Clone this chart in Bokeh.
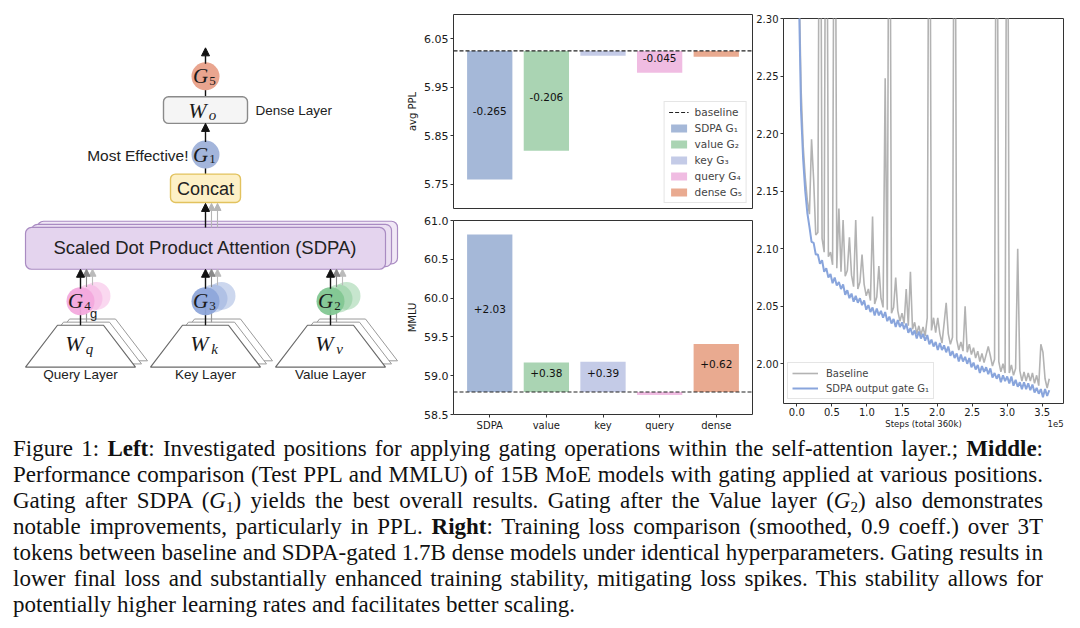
import numpy as np
from bokeh.plotting import figure
from bokeh.models import (Range1d, FixedTicker, ColumnDataSource, Arrow, LinearAxis,
                          NormalHead, Div, NumeralTickFormatter, Legend, LegendItem)
from bokeh.layouts import row, column
from bokeh.embed import file_html
from bokeh.resources import INLINE
from bokeh.core.properties import value

SANS = "DejaVu Sans"
DSANS = "Liberation Sans"
MATH = "Liberation Serif"

# ---------------- middle panels: data ----------------
categories = ["SDPA", "value", "key", "query", "dense"]
gate_names = ["SDPA G\u2081", "value G\u2082", "key G\u2083", "query G\u2084", "dense G\u2085"]
bar_colors = ["#a5b8d8", "#aad4b3", "#c4cbe7", "#f0bce2", "#e9aa90"]
ppl_baseline = 6.025
ppl_delta = [-0.265, -0.206, -0.010, -0.045, -0.012]
ppl_labels = ["-0.265", "-0.206", "", "-0.045", ""]
ppl_ticks = [5.75, 5.85, 5.95, 6.05]
mmlu_baseline = 58.79
mmlu_delta = [2.03, 0.38, 0.39, -0.04, 0.62]
mmlu_labels = ["+2.03", "+0.38", "+0.39", "", "+0.62"]
mmlu_ticks = [58.5, 59.0, 59.5, 60.0, 60.5, 61.0]

# ---------------- right panel: data ----------------
loss_step = 3000
baseline_loss = [
    2.340, 2.240, 2.190, 2.162, 2.142, 2.130, 2.195, 2.160, 2.112, 2.114,
    2.600, 2.109, 2.097, 2.600, 2.093, 2.097, 2.086, 2.600, 2.083, 2.135,
    2.080, 2.125, 2.076, 2.081, 2.110, 2.077, 2.067, 2.125, 2.065, 2.071,
    2.095, 2.069, 2.059, 2.065, 2.055, 2.128, 2.052, 2.058, 2.085, 2.057,
    2.049, 2.248, 2.047, 2.600, 2.044, 2.049, 2.075, 2.046, 2.037, 2.044,
    2.035, 2.065, 2.033, 2.080, 2.030, 2.036, 2.026, 2.033, 2.025, 2.032,
    2.024, 2.040, 2.600, 2.029, 2.040, 2.027, 2.040, 2.026, 2.018, 2.035,
    2.053, 2.026, 2.017, 2.023, 2.600, 2.021, 2.012, 2.019, 2.011, 2.050,
    2.010, 2.017, 2.008, 2.014, 2.005, 2.011, 2.002, 2.009, 2.001, 2.008,
    2.015, 2.007, 1.998, 2.004, 2.600, 2.002, 1.993, 2.000, 1.992, 2.600,
    1.992, 1.999, 1.990, 1.996, 2.100, 1.994, 1.985, 1.993, 1.985, 1.992,
    1.985, 1.992, 1.983, 1.990, 1.981, 2.017, 2.010, 1.987, 1.979, 1.987]
gated_loss = [
    2.320, 2.220, 2.178, 2.150, 2.131, 2.119, 2.106, 2.105, 2.095, 2.095,
    2.087, 2.090, 2.080, 2.083, 2.075, 2.078, 2.070, 2.075, 2.068, 2.071,
    2.065, 2.069, 2.060, 2.064, 2.057, 2.061, 2.054, 2.059, 2.053, 2.057,
    2.051, 2.055, 2.047, 2.051, 2.045, 2.049, 2.042, 2.048, 2.042, 2.046,
    2.040, 2.045, 2.037, 2.041, 2.035, 2.039, 2.032, 2.038, 2.032, 2.036,
    2.030, 2.035, 2.027, 2.031, 2.025, 2.029, 2.022, 2.028, 2.022, 2.026,
    2.020, 2.025, 2.017, 2.021, 2.015, 2.019, 2.012, 2.018, 2.012, 2.016,
    2.010, 2.015, 2.007, 2.011, 2.005, 2.009, 2.002, 2.008, 2.002, 2.006,
    2.000, 2.005, 1.997, 2.001, 1.995, 1.999, 1.992, 1.998, 1.993, 1.997,
    1.991, 1.996, 1.988, 1.992, 1.987, 1.991, 1.984, 1.990, 1.985, 1.989,
    1.983, 1.989, 1.981, 1.986, 1.980, 1.984, 1.978, 1.984, 1.978, 1.983,
    1.977, 1.982, 1.975, 1.979, 1.974, 1.978, 1.971, 1.978, 1.972, 1.977]
loss_xticks = [0, 50000, 100000, 150000, 200000, 250000, 300000, 350000]
loss_xtick_labels = ["0.0", "0.5", "1.0", "1.5", "2.0", "2.5", "3.0", "3.5"]
loss_yticks = [2.00, 2.05, 2.10, 2.15, 2.20, 2.25, 2.30]
loss_xlabel = "Steps (total 360k)"
loss_offset_text = "1e5"

# ---------------- left diagram: layout description ----------------
trap_cx = [80, 205, 330]
trap_top_y, trap_bot_y = 345, 392
trap_top_half, trap_bot_half = 23, 55
trap_ghost_offsets = [(12, -7), (6, -3.5)]
trap_sub = ["q", "k", "v"]
layer_names = ["Query Layer", "Key Layer", "Value Layer"]

gate_low_x = [80, 205, 330]
gate_low_y = 318
gate_low_colors = ["#f3a9dd", "#8ea6da", "#82c792"]
gate_low_sub = ["4", "3", "2"]
gate_ghost_offsets = [(16, -6), (8, -3)]
gate_r = 14

gate_top_x = [205, 205]
gate_top_y = [65, 153]
gate_top_colors = ["#e9a58f", "#a3b5db"]
gate_top_sub = ["5", "1"]

sdpa_left = [37, 31, 25]
sdpa_right = [397, 391, 385]
sdpa_top = [228, 231.5, 235]
sdpa_bottom = [276, 279, 282]
sdpa_fill = ["#f1e8f6", "#ebdff2", "#e4d4ee"]

box_left = [163, 170]
box_right = [247, 240]
box_top = [88, 175]
box_bottom = [118, 207]
box_fill = ["#f5f5f5", "#fdf0c6"]
box_line = ["#8a8a8a", "#e2c25e"]

caption_lines = [
    "Figure 1: <b>Left</b>: Investigated positions for applying gating operations within the self-attention layer.; <b>Middle</b>:",
    "Performance comparison (Test PPL and MMLU) of 15B MoE models with gating applied at various positions.",
    "Gating after SDPA (<i>G</i><sub>1</sub>) yields the best overall results. Gating after the Value layer (<i>G</i><sub>2</sub>) also demonstrates",
    "notable improvements, particularly in PPL. <b>Right</b>: Training loss comparison (smoothed, 0.9 coeff.) over 3T",
    "tokens between baseline and SDPA-gated 1.7B dense models under identical hyperparameters. Gating results in",
    "lower final loss and substantially enhanced training stability, mitigating loss spikes. This stability allows for",
    "potentially higher learning rates and facilitates better scaling.",
]

# ======================= left diagram =======================
d = figure(width=404, height=433, x_range=Range1d(0, 404), y_range=Range1d(433, 0),
           output_backend="svg", toolbar_location=None, min_border=0)
d.xaxis.visible = False
d.yaxis.visible = False
d.grid.visible = False
d.outline_line_color = None


def trap_shape(cx, dx=0, dy=0):
    xs = [cx - trap_bot_half + dx, cx - trap_top_half + dx, cx + trap_top_half + dx, cx + trap_bot_half + dx]
    ys = [trap_bot_y + dy, trap_top_y + dy, trap_top_y + dy, trap_bot_y + dy]
    return xs, ys


for dx, dy in trap_ghost_offsets:
    shapes = [trap_shape(c, dx, dy) for c in trap_cx]
    d.patches([s[0] for s in shapes], [s[1] for s in shapes], fill_color="white",
              line_color="#9a9a9a", line_width=1)
shapes = [trap_shape(c) for c in trap_cx]
d.patches([s[0] for s in shapes], [s[1] for s in shapes], fill_color="white",
          line_color="#6a6a6a", line_width=1.2)

# lines from layers to gates
d.segment(x0=[c + 6 for c in trap_cx], y0=[trap_top_y - 3.5] * 3, x1=[c + 6 for c in trap_cx],
          y1=[gate_low_y] * 3, line_color="#999999", line_width=1.2)
d.segment(x0=trap_cx, y0=[trap_top_y] * 3, x1=trap_cx, y1=[gate_low_y] * 3,
          line_color="#111111", line_width=1.4)

# low gates with ghosts
for dx, dy in gate_ghost_offsets:
    d.circle(x=[x + dx for x in gate_low_x], y=[gate_low_y + dy] * 3, radius=gate_r,
             fill_color=gate_low_colors, fill_alpha=0.45, line_color=None)
d.circle(x=gate_low_x, y=[gate_low_y] * 3, radius=gate_r, fill_color=gate_low_colors,
         fill_alpha=0.95, line_color=None)

# SDPA stack
d.quad(left=sdpa_left, right=sdpa_right, top=sdpa_top, bottom=sdpa_bottom,
       fill_color=sdpa_fill, line_color="#a98bc2", line_width=1.2, border_radius=6)

# boxes
d.segment(x0=[205, 205], y0=[box_top[0], box_top[1]], x1=[205, 205], y1=[gate_top_y[0], gate_top_y[1]],
          line_color="#111111", line_width=1.4)
d.quad(left=box_left, right=box_right, top=box_top, bottom=box_bottom,
       fill_color=box_fill, line_color=box_line, line_width=1.4, border_radius=5)

d.circle(x=gate_top_x, y=gate_top_y, radius=gate_r, fill_color=gate_top_colors, line_color=None)


def up_arrows(fig, xs, y0s, y1s, color, size=8, width=1.4):
    src = ColumnDataSource(dict(x0=xs, y0=y0s, x1=xs, y1=y1s))
    fig.add_layout(Arrow(end=NormalHead(size=size, fill_color=color, line_color=color, line_width=1),
                         x_start="x0", y_start="y0", x_end="x1", y_end="y1", source=src,
                         line_color=color, line_width=width))


up_arrows(d, [205 + 12, 205 + 6], [235, 235], [208, 208], "#b5b5b5", size=7, width=1.1)
up_arrows(d, [205], [235], [208], "#111111")
up_arrows(d, [c + 12 for c in gate_low_x], [300] * 3, [282] * 3, "#bbbbbb", size=7, width=1.1)
up_arrows(d, [c + 6 for c in gate_low_x], [302] * 3, [282] * 3, "#888888", size=7, width=1.1)
up_arrows(d, gate_low_x, [gate_low_y - gate_r] * 3, [282] * 3, "#111111")
up_arrows(d, [205], [gate_top_y[1] - gate_r], [box_bottom[0]], "#111111")
up_arrows(d, [205], [gate_top_y[0] - gate_r], [33], "#111111")

# texts
sans_kw = dict(text_font=value(DSANS), text_color="#222222")
d.text(x=[205], y=[258], text=["Scaled Dot Product Attention (SDPA)"], text_align="center",
       text_baseline="middle", text_font_size=value("18.5px"), **sans_kw)
d.text(x=[205], y=[191.5], text=["Concat"], text_align="center", text_baseline="middle",
       text_font_size=value("18px"), **sans_kw)
d.text(x=[188], y=[154], text=["Most Effective!"], text_align="right", text_baseline="middle",
       text_font_size=value("15.5px"), **sans_kw)
d.text(x=[255], y=[103], text=["Dense Layer"], text_align="left", text_baseline="middle",
       text_font_size=value("13.5px"), **sans_kw)
d.text(x=trap_cx, y=[400.5] * 3, text=layer_names, text_align="center", text_baseline="middle",
       text_font_size=value("13.5px"), **sans_kw)
d.text(x=[93], y=[332], text=["g"], text_align="center", text_baseline="middle",
       text_font_size=value("13px"), **sans_kw)

math_kw = dict(text_font=value(MATH), text_color="#1a1a1a", text_baseline="middle")
gx = gate_top_x + gate_low_x
gy = gate_top_y + [gate_low_y] * 3
gsub = gate_top_sub + gate_low_sub
d.text(x=[x - 5 for x in gx], y=gy, text=["G"] * len(gx), text_align="center",
       text_font_size=value("21px"), text_font_style="italic", **math_kw)
d.text(x=[x + 7 for x in gx], y=[y + 5 for y in gy], text=gsub, text_align="center",
       text_font_size=value("13px"), **math_kw)
wx = [197] + [c - 6 for c in trap_cx]
wy = [103] + [366] * 3
wsub = ["o"] + trap_sub
d.text(x=wx, y=wy, text=["W"] * len(wx), text_align="center", text_font_size=value("22px"),
       text_font_style="italic", **math_kw)
d.text(x=[x + 15 for x in wx], y=[y + 6 for y in wy], text=wsub, text_align="center",
       text_font_size=value("15px"), text_font_style="italic", **math_kw)


# ======================= shared styling =======================
def style(p, font_size):
    p.grid.visible = False
    p.outline_line_color = "#333333"
    p.outline_line_width = 1
    p.background_fill_color = "white"
    p.border_fill_color = "white"
    for ax in p.axis:
        ax.axis_line_color = None
        ax.major_tick_in = 0
        ax.major_tick_out = 3
        ax.major_tick_line_color = "#333333"
        ax.minor_tick_line_color = None
        ax.major_label_text_font = SANS
        ax.major_label_text_font_size = font_size
        ax.major_label_text_color = "#1a1a1a"
        ax.major_label_standoff = 2
        ax.axis_label_text_font = SANS
        ax.axis_label_text_font_style = "normal"
        ax.axis_label_text_font_size = "10px"
        ax.axis_label_text_color = "#1a1a1a"
        ax.axis_label_standoff = 3


# ======================= middle panels =======================
def bar_panel(height, y_start, y_end, base, delta, labels, ticks, fmt, ylabel,
              border_top, border_bottom, with_legend, show_x):
    p = figure(width=349, height=height, x_range=Range1d(-0.64, 4.64),
               y_range=Range1d(y_start, y_end), output_backend="svg", toolbar_location=None,
               min_border_left=45, min_border_right=1, min_border_top=border_top,
               min_border_bottom=border_bottom)
    xs = list(range(len(categories)))
    src = ColumnDataSource(dict(x=xs, bottom=[base] * len(xs), top=[base + v for v in delta],
                                color=bar_colors, name=gate_names,
                                mid=[base + v / 2 for v in delta], label=labels))
    bars = p.vbar(x="x", bottom="bottom", top="top", width=0.8, fill_color="color",
                  line_color=None, source=src)
    p.text(x="x", y="mid", text="label", source=src, text_align="center",
           text_baseline="middle", text_font=value(SANS), text_font_size=value("10.5px"),
           text_color="#111111", y_offset=-4)
    xr = p.x_range
    base_line = p.line([xr.start, xr.end], [base, base], line_dash="4 2", line_color="#222222",
                       line_width=1.1)
    style(p, "11px")
    p.yaxis.ticker = FixedTicker(ticks=ticks)
    p.yaxis.formatter = NumeralTickFormatter(format=fmt)
    p.yaxis.axis_label = ylabel
    if show_x:
        p.xaxis.ticker = FixedTicker(ticks=xs)
        p.xaxis.major_label_overrides = {i: c for i, c in enumerate(categories)}
        p.xaxis.major_label_text_font_size = "10px"
    else:
        p.xaxis.visible = False
    if with_legend:
        items = [LegendItem(label="baseline", renderers=[base_line])]
        items += [LegendItem(label=n, renderers=[bars], index=i) for i, n in enumerate(gate_names)]
        leg = Legend(items=items, location="bottom_right", margin=5, padding=4, spacing=4,
                     label_height=12, glyph_height=10, glyph_width=20, label_standoff=6,
                     label_text_font=SANS, label_text_font_size="10.5px",
                     border_line_color="#cccccc", background_fill_alpha=0.9)
        p.add_layout(leg)
    return p


p1 = bar_panel(214, 5.70, 6.10, ppl_baseline, ppl_delta, ppl_labels, ppl_ticks, "0.00",
               "avg PPL", 14, 6, True, False)
p2 = bar_panel(219, 58.5, 61.0, mmlu_baseline, mmlu_delta, mmlu_labels, mmlu_ticks, "0.0",
               "MMLU", 6, 19, False, True)

# ======================= right panel =======================
x_lo, x_hi = -19000, 380300
p3 = figure(width=327, height=433, x_range=Range1d(x_lo, x_hi), y_range=Range1d(1.9655, 2.30),
            output_backend="svg", toolbar_location=None, min_border_left=29, min_border_right=17,
            min_border_top=18, min_border_bottom=30)
steps = np.arange(1, len(baseline_loss) + 1) * loss_step
r_base = p3.line(steps, baseline_loss, line_color="#b3b3b3", line_width=1.6)
r_gate = p3.line(steps, gated_loss, line_color="#89a5dc", line_width=2.0)
style(p3, "10px")
p3.yaxis.ticker = FixedTicker(ticks=loss_yticks)
p3.yaxis.formatter = NumeralTickFormatter(format="0.00")
p3.xaxis.ticker = FixedTicker(ticks=loss_xticks)
p3.xaxis.major_label_overrides = dict(zip(loss_xticks, loss_xtick_labels))
p3.xaxis.major_label_standoff = 1

# second, tick-less axis row carrying the axis title and the matplotlib-style offset text
x_mid = (x_lo + x_hi) // 2
x_off = x_hi - (x_hi - x_lo) * 8 // 281
ax2 = LinearAxis(ticker=FixedTicker(ticks=[x_mid, x_off]),
                 major_label_overrides={x_mid: loss_xlabel, x_off: loss_offset_text},
                 major_tick_in=0, major_tick_out=0, major_tick_line_color=None,
                 minor_tick_line_color=None, axis_line_color=None, major_label_standoff=0,
                 major_label_text_font=SANS, major_label_text_font_size="8.5px",
                 major_label_text_color="#1a1a1a")
p3.add_layout(ax2, "below")

leg3 = Legend(items=[LegendItem(label="Baseline", renderers=[r_base]),
                     LegendItem(label="SDPA output gate G\u2081", renderers=[r_gate])],
              location="bottom_left", margin=4, padding=4, spacing=3, label_height=12,
              glyph_height=10, glyph_width=26, label_standoff=8, label_text_font=SANS,
              label_text_font_size="10px", border_line_color="#cccccc",
              background_fill_alpha=0.85)
p3.add_layout(leg3)

# ======================= caption =======================
sub_css = "<sub style='font-size:15px; line-height:0; vertical-align:-4px'>"
lines_html = []
for i, line in enumerate(caption_lines):
    line = line.replace("<sub>", sub_css)
    if i < len(caption_lines) - 1:
        lines_html.append("<div style='text-align:justify; text-align-last:justify;'>" + line + "</div>")
    else:
        lines_html.append("<div style='text-align:left;'>" + line + "</div>")
caption_html = ("<div style='font-family:\"Liberation Serif\", serif; font-size:23px; line-height:26px; "
                "color:#111111; padding:3px 12px 0 13px; width:1055px;'>" + "".join(lines_html) + "</div>")
caption = Div(text=caption_html, width=1080, height=190, margin=(0, 0, 0, 0))

layout = column(row(d, column(p1, p2), p3), caption)
open("out.html", "w").write(file_html(layout, INLINE))
